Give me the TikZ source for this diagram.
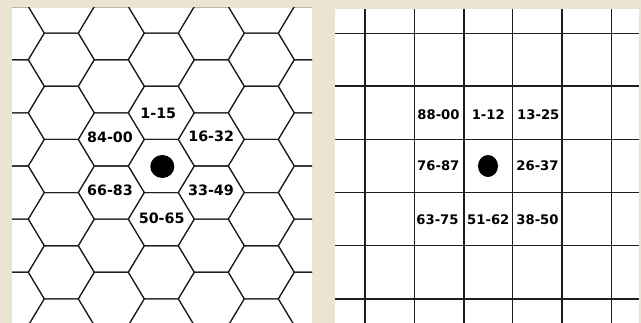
\documentclass[tikz,border=0pt]{standalone}
\usepackage{fontspec}
\setmainfont{DejaVu Sans}
\definecolor{parch}{RGB}{236,228,211}
\definecolor{inkline}{RGB}{30,30,30}
\tikzset{
  gridline/.style={draw=inkline, line width=1.1pt},
  hexlabel/.style={font=\bfseries\fontsize{14.3}{16}\selectfont, inner sep=0pt, anchor=center},
  sqlabel/.style={font=\bfseries\fontsize{13.2}{15}\selectfont, inner sep=0pt, anchor=center},
  marker/.style={fill=black, draw=none}
}
\begin{document}
\begin{tikzpicture}[x=1pt,y=-1pt]
\useasboundingbox (0,0) rectangle (641,323);
\fill[parch] (0,0) rectangle (641,323);
% left panel
\fill[white] (12,8) rectangle (312,323);
\begin{scope}
  \clip (12,8) rectangle (312,323);
  \foreach \i in {-1,0,1} {
    \foreach \j in {-3,...,3} {
      \draw[gridline] ({161.3+100*\i-33},{166+53.14*\j}) -- ({161.3+100*\i-17},{166+53.14*\j-26.57}) -- ({161.3+100*\i+17},{166+53.14*\j-26.57}) -- ({161.3+100*\i+33},{166+53.14*\j}) -- ({161.3+100*\i+17},{166+53.14*\j+26.57}) -- ({161.3+100*\i-17},{166+53.14*\j+26.57}) -- cycle;
    }
  }
  \foreach \i in {-2,-1,0,1} {
    \foreach \j in {-4,...,3} {
      \draw[gridline] ({211.3+100*\i-33},{192.57+53.14*\j}) -- ({211.3+100*\i-17},{192.57+53.14*\j-26.57}) -- ({211.3+100*\i+17},{192.57+53.14*\j-26.57}) -- ({211.3+100*\i+33},{192.57+53.14*\j}) -- ({211.3+100*\i+17},{192.57+53.14*\j+26.57}) -- ({211.3+100*\i-17},{192.57+53.14*\j+26.57}) -- cycle;
    }
  }
\end{scope}
\fill[marker] (162.3,166.5) ellipse [x radius=12, y radius=11.5];
\node[hexlabel] (h1) at (158.3,113.5) {1-15};
\node[hexlabel] (h2) at (211.2,136.5) {16-32};
\node[hexlabel] (h3) at (211.0,190.0) {33-49};
\node[hexlabel] (h4) at (161.7,218.2) {50-65};
\node[hexlabel] (h5) at (110.0,190.0) {66-83};
\node[hexlabel] (h6) at (110.0,137.5) {84-00};
% right panel
\fill[white] (335,9) rectangle (639,323);
\foreach \vx in {365,414.3,464,512.7,562,611.7} {
  \draw[gridline] (\vx,9) -- (\vx,323);
}
\foreach \hy in {33.3,86,139.3,192.3,245.7,299} {
  \draw[gridline] (335,\hy) -- (639,\hy);
}
\fill[marker] (488,166) ellipse [x radius=10, y radius=11];
\node[sqlabel] (s1) at (438.5,114.3) {88-00};
\node[sqlabel] (s2) at (488.3,114.3) {1-12};
\node[sqlabel] (s3) at (538.3,114.3) {13-25};
\node[sqlabel] (s4) at (438.3,165.7) {76-87};
\node[sqlabel] (s5) at (537.5,165.7) {26-37};
\node[sqlabel] (s6) at (437.5,220) {63-75};
\node[sqlabel] (s7) at (488.3,220) {51-62};
\node[sqlabel] (s8) at (537.5,220) {38-50};
\end{tikzpicture}
\end{document}
